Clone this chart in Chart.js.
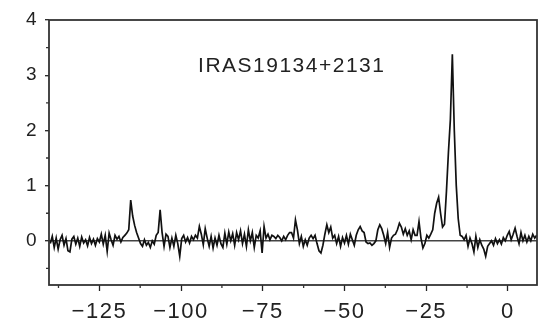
<!DOCTYPE html>
<html lang="en">
<head>
    <meta charset="UTF-8">
    <title>IRAS19134+2131 spectrum</title>
    <script src="https://cdn.jsdelivr.net/npm/chart.js"></script>
    <style>
        html, body {
            margin: 0;
            padding: 0;
            background: #fff;
        }

        #wrap {
            width: 543px;
            height: 331px;
        }
    </style>
</head>
<body>
    <div id="wrap"><canvas id="spectrum"></canvas></div>

    <script>
        // velocity channels: first channel and spacing (km/s)
        const vStart = -140;
        const vStep = 0.6;

        // flux density, one value per channel
        const flux = [
            -0.05, 0.08, -0.12, 0.05, -0.15, 0.02, 0.10, -0.08, 0.04, -0.18,
            -0.20, 0.03, 0.08, -0.06, 0.05, -0.10, 0.07, -0.04, 0.02, -0.09,
            0.06, -0.05, 0.03, -0.08, 0.04, -0.02, 0.12, -0.06, 0.10, -0.19,
            0.14, 0.02, -0.08, 0.10, 0.03, 0.08, -0.02, 0.06, 0.10, 0.14,
            0.20, 0.74, 0.45, 0.28, 0.15, 0.05, -0.05, -0.10, 0.02, -0.08,
            -0.03, -0.12, 0.00, -0.06, 0.10, 0.15, 0.56, 0.15, -0.10, 0.12,
            0.08, -0.12, 0.05, -0.10, 0.10, -0.05, -0.28, 0.04, 0.10, -0.02,
            0.06, -0.04, 0.08, 0.02, 0.10, 0.05, 0.26, 0.12, -0.07, 0.22,
            0.05, -0.10, 0.08, -0.13, 0.05, -0.08, 0.10, -0.05, -0.12, 0.14,
            -0.06, 0.16, 0.00, 0.13, -0.08, 0.15, 0.02, 0.18, -0.05, 0.12,
            -0.10, 0.20, 0.00, 0.15, -0.12, 0.10, 0.05, 0.18, -0.22, 0.26,
            0.05, 0.12, 0.02, 0.10, 0.08, 0.04, 0.10, 0.06, 0.00, 0.08,
            0.02, 0.10, 0.15, 0.15, 0.05, 0.38, 0.20, -0.05, 0.08, -0.10,
            0.02, -0.08, 0.05, 0.10, 0.04, 0.10, -0.05, -0.18, -0.22, -0.08,
            0.12, 0.29, 0.15, 0.25, 0.05, 0.10, -0.05, 0.08, -0.10, 0.06,
            -0.04, 0.10, -0.06, 0.12, 0.02, -0.08, 0.10, 0.20, 0.26, 0.18,
            0.15, -0.02, -0.05, -0.04, -0.08, -0.05, 0.00, 0.20, 0.29, 0.22,
            0.10, -0.05, 0.15, -0.12, 0.05, 0.10, 0.12, 0.20, 0.32, 0.25,
            0.12, 0.22, 0.10, 0.18, 0.02, 0.20, 0.10, 0.10, 0.35, 0.05,
            -0.13, -0.05, 0.10, 0.05, 0.12, 0.20, 0.50, 0.68, 0.79, 0.50,
            0.25, 0.30, 0.90, 1.60, 2.20, 3.38, 2.00, 1.00, 0.40, 0.10,
            0.08, 0.02, 0.10, -0.10, 0.05, -0.05, -0.20, 0.08, -0.12, 0.02,
            -0.08, -0.15, -0.28, -0.10, -0.05, 0.00, -0.08, 0.04, -0.05, 0.02,
            -0.06, 0.06, 0.00, 0.10, 0.17, 0.02, 0.12, 0.23, 0.08, -0.05,
            0.15, 0.00, 0.10, -0.02, 0.08, 0.00, 0.12, 0.05, 0.10
        ];

        const xTicks = [-125, -100, -75, -50, -25, 0];
        const yTicks = [0, 1, 2, 3, 4];
        const xMinor = [-137.5, -112.5, -87.5, -62.5, -37.5, -12.5, 12.5];
        const yMinor = [-0.5, 0.5, 1.5, 2.5, 3.5];
        const sourceName = 'IRAS19134+2131';

        const points = flux.map((f, i) => ({ x: vStart + i * vStep, y: f }));

        const ink = '#222';
        const fontFace = '"Liberation Sans", Arial, sans-serif';

        // frame, minor ticks and source label
        const decor = {
            id: 'decor',
            beforeDraw(chart) {
                chart.ctx.letterSpacing = '1.5px';
            },
            afterDraw(chart) {
                const { ctx, chartArea: a, scales: { x, y } } = chart;
                ctx.save();
                ctx.strokeStyle = '#333';
                ctx.lineWidth = 1.8;
                ctx.strokeRect(a.left, a.top, a.right - a.left, a.bottom - a.top);

                ctx.lineWidth = 1.3;
                ctx.beginPath();
                xMinor.forEach(v => {
                    const px = x.getPixelForValue(v);
                    if (px < a.left || px > a.right) return;
                    ctx.moveTo(px, a.bottom);
                    ctx.lineTo(px, a.bottom + 3);
                });
                yMinor.forEach(v => {
                    const py = y.getPixelForValue(v);
                    ctx.moveTo(a.left, py);
                    ctx.lineTo(a.left - 3, py);
                });
                ctx.stroke();

                ctx.fillStyle = ink;
                ctx.font = '21px ' + fontFace;
                ctx.letterSpacing = '1.5px';
                ctx.textBaseline = 'middle';
                ctx.fillText(sourceName, x.getPixelForValue(-94.8), y.getPixelForValue(3.17));
                ctx.restore();
            }
        };

        new Chart(document.getElementById('spectrum'), {
            type: 'line',
            data: {
                datasets: [{
                    data: points,
                    borderColor: '#111',
                    borderWidth: 1.7,
                    pointRadius: 0,
                    tension: 0,
                    fill: false
                }]
            },
            options: {
                responsive: true,
                maintainAspectRatio: false,
                animation: false,
                events: [],
                layout: { padding: { top: 20, right: 6, left: 0, bottom: 0 } },
                plugins: {
                    legend: { display: false },
                    tooltip: { enabled: false }
                },
                scales: {
                    x: {
                        type: 'linear',
                        min: -140.4,
                        max: 8.9,
                        afterBuildTicks: s => { s.ticks = xTicks.map(v => ({ value: v })); },
                        afterFit: s => { s.height = 46; },
                        border: { display: false },
                        grid: {
                            drawOnChartArea: false,
                            drawTicks: true,
                            tickLength: 6,
                            tickWidth: 1.3,
                            tickColor: ink
                        },
                        ticks: {
                            color: ink,
                            padding: 8,
                            maxRotation: 0,
                            font: { family: fontFace, size: 22 },
                            callback: v => (v < 0 ? '\u2212' + Math.abs(v) : String(v))
                        }
                    },
                    y: {
                        min: -0.8,
                        max: 4,
                        afterBuildTicks: s => { s.ticks = yTicks.map(v => ({ value: v })); },
                        afterFit: s => { s.width = 49; },
                        border: { display: false },
                        grid: {
                            drawOnChartArea: true,
                            drawTicks: true,
                            tickLength: 4,
                            tickWidth: 1.3,
                            tickColor: ink,
                            lineWidth: 1.4,
                            color: c => (c.tick && c.tick.value === 0 ? '#444' : 'rgba(0,0,0,0)')
                        },
                        ticks: {
                            color: ink,
                            padding: 7,
                            font: { family: fontFace, size: 19 },
                            callback: v => String(v)
                        }
                    }
                }
            },
            plugins: [decor]
        });
    </script>
</body>
</html>
